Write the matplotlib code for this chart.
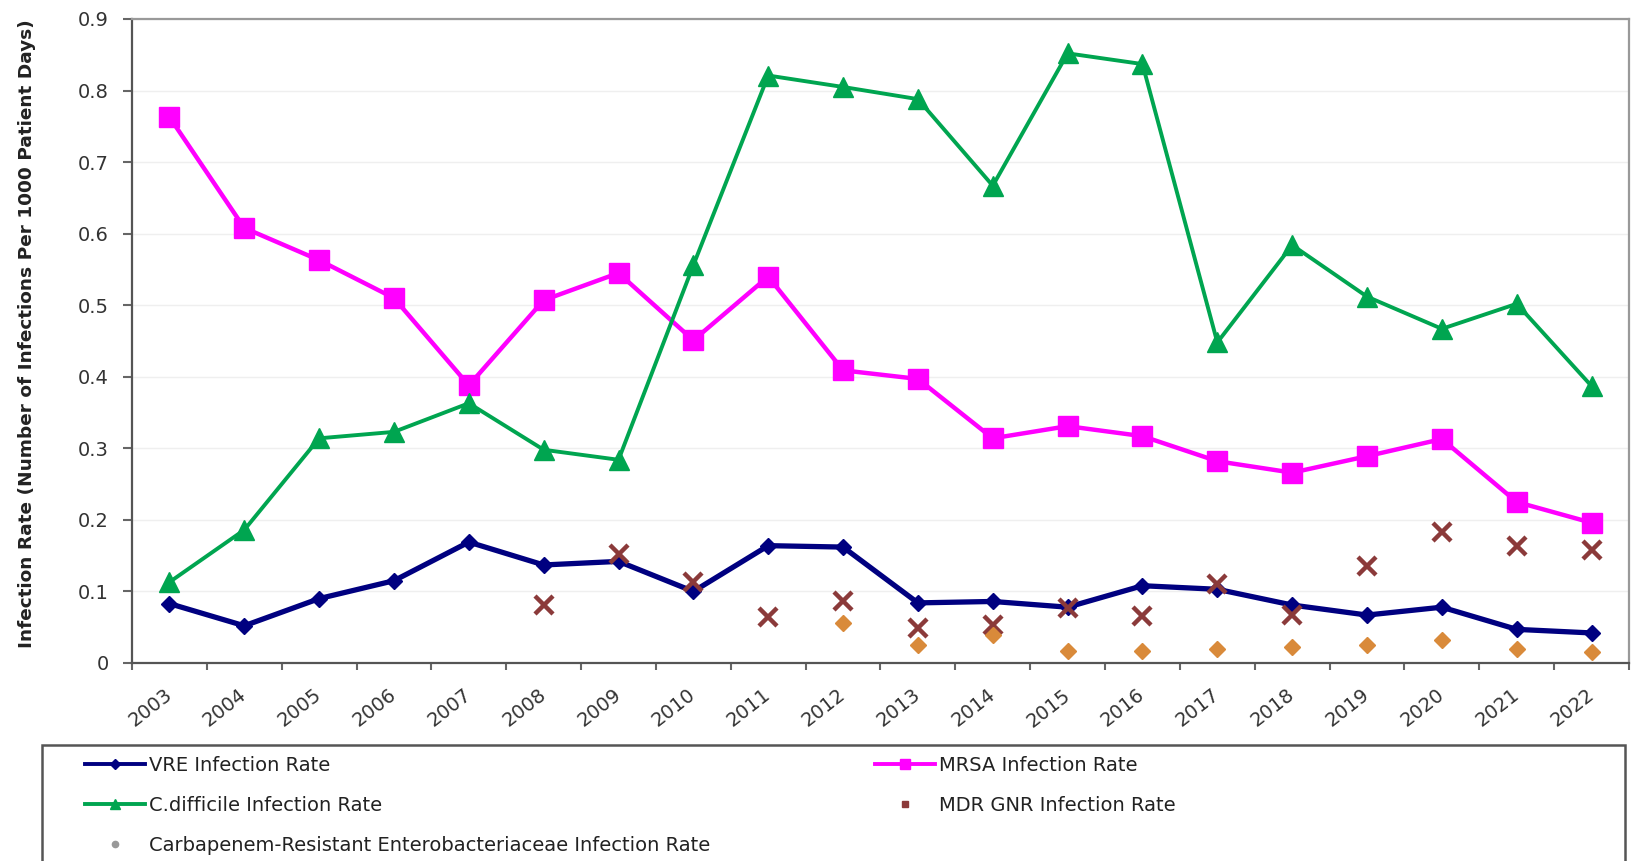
import matplotlib
matplotlib.use("Agg")
import matplotlib.pyplot as plt
from matplotlib.lines import Line2D
from matplotlib.patches import Rectangle
from matplotlib.transforms import ScaledTranslation

plt.rcParams['font.family'] = ['DejaVu Sans']

years = ["2003", "2004", "2005", "2006", "2007", "2008", "2009", "2010", "2011", "2012",
         "2013", "2014", "2015", "2016", "2017", "2018", "2019", "2020", "2021", "2022"]

vre = [0.083, 0.052, 0.090, 0.115, 0.169, 0.137, 0.142, 0.100, 0.164, 0.162,
       0.084, 0.086, 0.078, 0.108, 0.103, 0.081, 0.067, 0.078, 0.047, 0.042]
mrsa = [0.763, 0.608, 0.563, 0.510, 0.388, 0.507, 0.545, 0.451, 0.540, 0.409,
        0.397, 0.314, 0.331, 0.317, 0.282, 0.266, 0.289, 0.313, 0.225, 0.196]
cdiff = [0.113, 0.186, 0.314, 0.323, 0.363, 0.298, 0.284, 0.556, 0.821, 0.805,
         0.788, 0.667, 0.852, 0.837, 0.448, 0.584, 0.512, 0.467, 0.502, 0.387]

mdr_years = ["2008", "2009", "2010", "2011", "2012", "2013", "2014", "2015",
             "2016", "2017", "2018", "2019", "2020", "2021", "2022"]
mdr = [0.081, 0.153, 0.113, 0.064, 0.086, 0.049, 0.053, 0.077,
       0.065, 0.110, 0.067, 0.135, 0.183, 0.163, 0.158]

cre_years = ["2012", "2013", "2014", "2015", "2016", "2017", "2018", "2019",
             "2020", "2021", "2022"]
cre = [0.056, 0.025, 0.039, 0.017, 0.017, 0.019, 0.022, 0.025, 0.032, 0.020, 0.016]

labels = ["VRE Infection Rate", "MRSA Infection Rate", "C.difficile Infection Rate",
          "MDR GNR Infection Rate", "Carbapenem-Resistant Enterobacteriaceae Infection Rate"]

yticks = [0, 0.1, 0.2, 0.3, 0.4, 0.5, 0.6, 0.7, 0.8, 0.9]
ytick_labels = ["0", "0.1", "0.2", "0.3", "0.4", "0.5", "0.6", "0.7", "0.8", "0.9"]

W, H = 1633, 861
fig = plt.figure(figsize=(W / 100, H / 100), dpi=100)
ax = fig.add_axes([132 / W, 1 - 663 / H, (1629 - 132) / W, (663 - 19) / H])

pos = {y: i for i, y in enumerate(years)}
x = [pos[y] for y in years]
x_mdr = [pos[y] for y in mdr_years]
x_cre = [pos[y] for y in cre_years]

navy = "#000080"
magenta = "#FF00FF"
green = "#00A550"
mdr_col = "#8B3A3A"
cre_col = "#D98A3A"

ax.plot(x, vre, color=navy, lw=3.8, marker="D", ms=8.5, zorder=3)
ax.plot(x, mrsa, color=magenta, lw=3.2, marker="s", ms=15, zorder=3)
ax.plot(x, cdiff, color=green, lw=2.8, marker="^", ms=14, zorder=4)
ax.plot(x_mdr, mdr, ls="none", marker="x", ms=13, mew=3.2, color=mdr_col, zorder=5)
ax.plot(x_cre, cre, ls="none", marker="D", ms=8.5, color=cre_col, zorder=6)

ax.set_xlim(-0.5, len(years) - 0.5)
ax.set_ylim(0, 0.9)

# category boundaries carry the tick marks, centres carry the labels
ax.set_xticks([i - 0.5 for i in range(len(years) + 1)])
ax.set_xticklabels([])
ax.set_xticks(x, minor=True)
ax.set_xticklabels(years, minor=True, rotation=38, ha="right", va="top",
                   fontsize=14, color="#333333")
ax.tick_params(axis="x", which="major", length=5, width=1.5, color="#666666", direction="out")
ax.tick_params(axis="x", which="minor", length=0, pad=16)
shift = ScaledTranslation(6 / 100, 0, fig.dpi_scale_trans)
for lab in ax.get_xticklabels(minor=True):
    lab.set_transform(lab.get_transform() + shift)

ax.set_yticks(yticks)
ax.set_yticklabels(ytick_labels, fontsize=14, color="#333333")
ax.tick_params(axis="y", length=6.5, width=1.5, color="#666666", pad=10)

ax.grid(axis="y", color="#efefef", lw=1.0, zorder=0)
ax.set_axisbelow(True)

for side in ("left", "bottom"):
    ax.spines[side].set_color("#555555")
    ax.spines[side].set_linewidth(1.6)
for side in ("top", "right"):
    ax.spines[side].set_color("#999999")
    ax.spines[side].set_linewidth(1.6)

fig.text(27 / W, 1 - 334 / H, "Infection Rate (Number of Infections Per 1000 Patient Days)",
         rotation=90, ha="center", va="center", fontsize=13.3, fontweight="bold",
         color="#222222")

# legend box
fig.patches.append(Rectangle((42 / W, -0.1), (1625 - 42) / W, 0.1 + (1 - 745 / H),
                             transform=fig.transFigure, facecolor="white",
                             edgecolor="#555555", lw=1.8, zorder=0))

h_vre = Line2D([], [], color=navy, lw=2.8, marker="D", ms=5)
h_mrsa = Line2D([], [], color=magenta, lw=2.8, marker="s", ms=7)
h_cdiff = Line2D([], [], color=green, lw=2.8, marker="^", ms=7)
h_mdr = Line2D([], [], ls="none", color=mdr_col, marker="s", ms=4.5)
h_cre = Line2D([], [], ls="none", color="#999999", marker="o", ms=4.5)

common = dict(loc="upper left", frameon=False, fontsize=14, borderpad=0, borderaxespad=0,
              handlelength=3.1, handletextpad=0.2, labelspacing=1.08,
              bbox_transform=fig.transFigure, labelcolor="#222222")
leg1 = fig.legend([h_vre, h_cdiff, h_cre], [labels[0], labels[2], labels[4]],
                  bbox_to_anchor=(85 / W, 1 - 756 / H), **common)
leg2 = fig.legend([h_mrsa, h_mdr], [labels[1], labels[3]],
                  bbox_to_anchor=(875 / W, 1 - 756 / H), **common)

fig.savefig("out.png", dpi=100, facecolor="white")
